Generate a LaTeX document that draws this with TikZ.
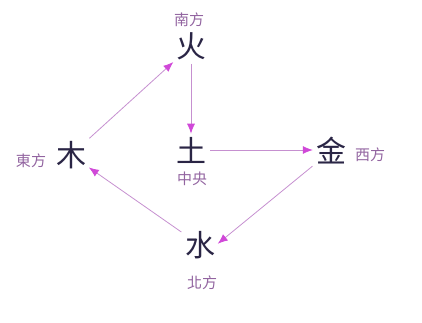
\documentclass[tikz,border=0pt]{standalone}
\usepackage{fontspec}
\newfontfamily\cjk{Noto Sans CJK TC}
\usetikzlibrary{arrows.meta}
\definecolor{ink}{HTML}{2A2545}
\definecolor{lab}{HTML}{9264A0}
\definecolor{arr}{HTML}{D048D8}
\definecolor{shaft}{HTML}{C690D0}
\tikzset{
  elem/.style={font=\cjk\fontsize{30}{30}\selectfont, text=ink, inner sep=1pt},
  dir/.style={font=\cjk\fontsize{15}{15}\selectfont, text=lab, inner sep=1pt},
  flow/.style={draw=shaft, line width=0.8pt, -{Latex[length=10pt,width=8pt,color=arr]}, shorten <=3pt, shorten >=2pt}
}
\begin{document}
\begin{tikzpicture}[x=1pt,y=-1pt]
\useasboundingbox (0,0) rectangle (422,323);
\node[elem] (fire) at (191,46) {火};
\node[dir] (s) at (189,20) {南方};
\node[elem] (wood) at (71,155) {木};
\node[dir] (e) at (31,161) {東方};
\node[elem] (earth) at (191,150) {土};
\node[dir] (c) at (192,179) {中央};
\node[elem] (metal) at (331,151) {金};
\node[dir] (w) at (370,155) {西方};
\node[elem] (water) at (200,245) {水};
\node[dir] (n) at (202,283) {北方};
\draw[flow] (wood) -- (fire);
\draw[flow] (fire) -- (earth);
\draw[flow] (earth.east) -- (earth.east -| metal.west);
\draw[flow] (metal) -- (water.east);
\draw[flow] (water) -- (wood);
\end{tikzpicture}
\end{document}
